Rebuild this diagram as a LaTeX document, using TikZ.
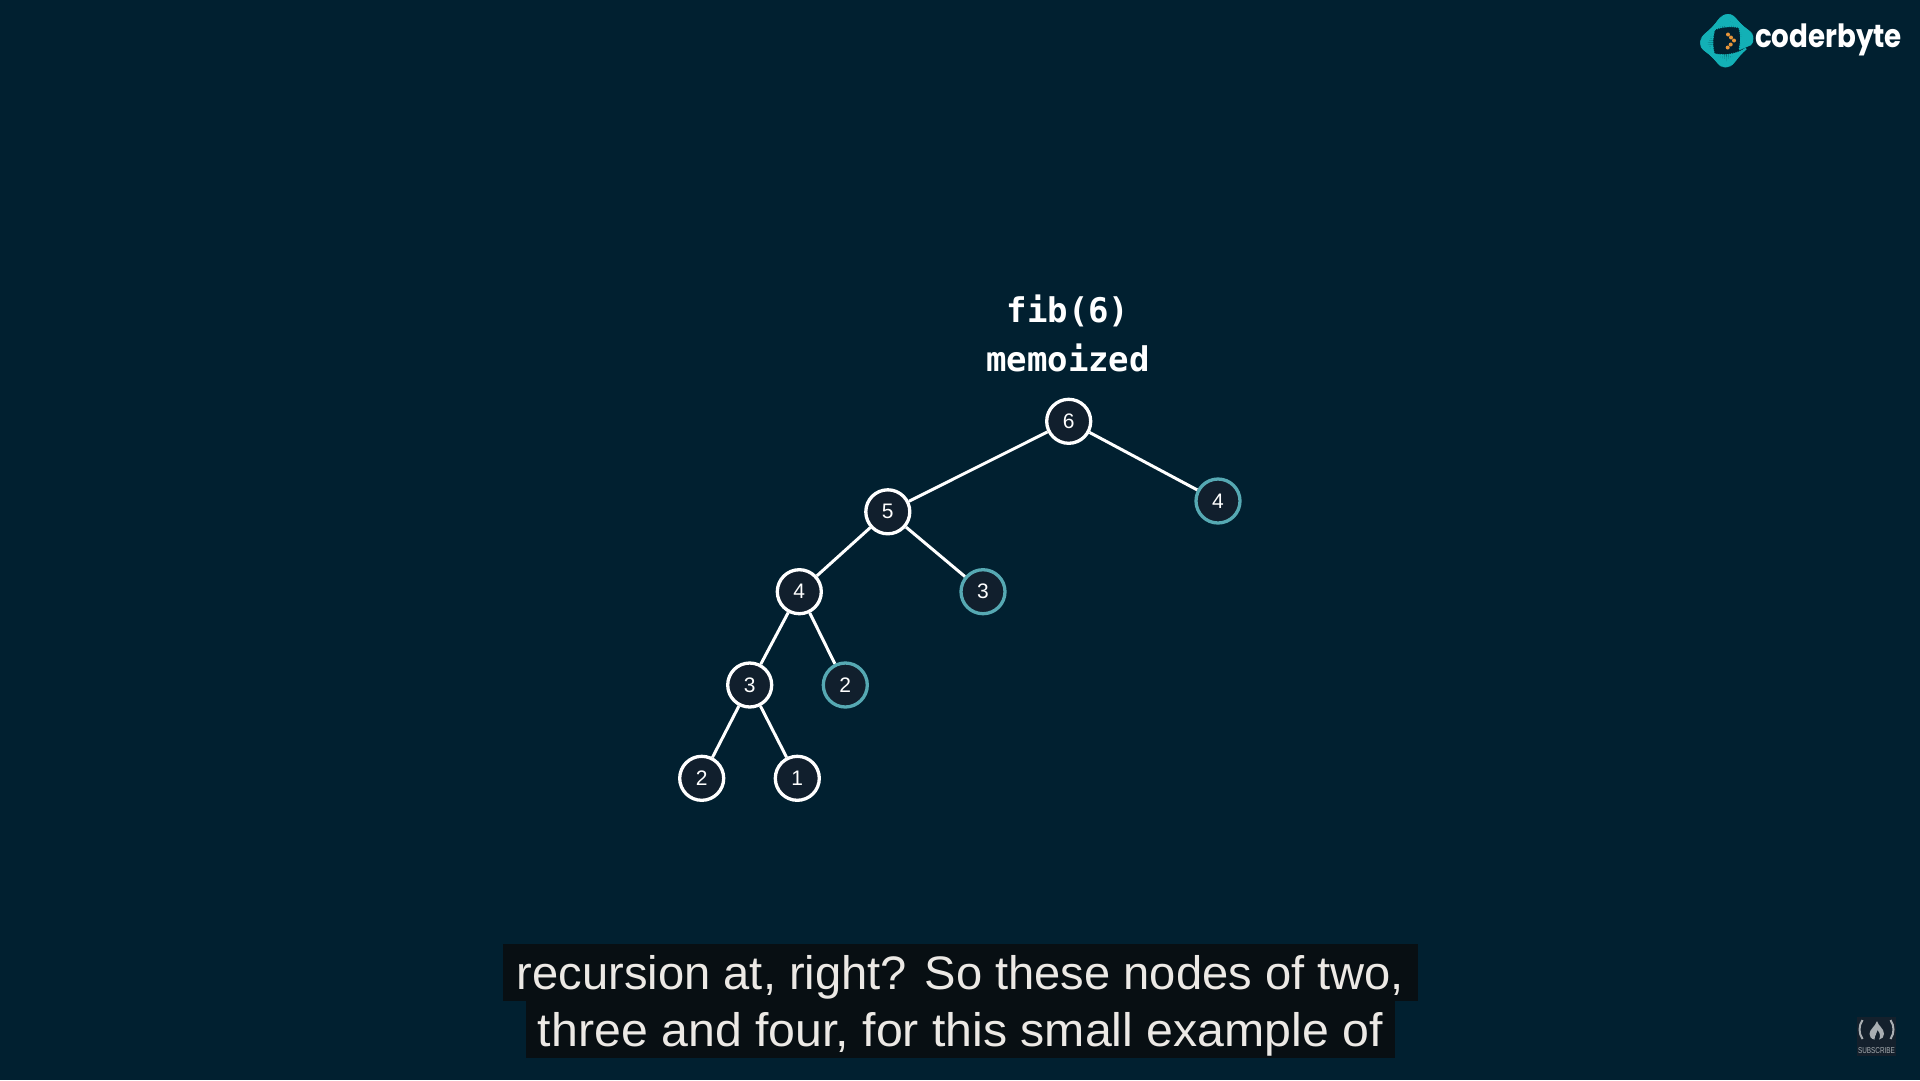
\documentclass[tikz,border=0pt]{standalone}
\usepackage{fontspec}
\setmainfont{Liberation Sans}
\newfontfamily\titlefont{DejaVu Sans Mono}
\newfontfamily\logofont{Poppins}
\definecolor{bgc}{HTML}{012030}
\definecolor{nodefill}{HTML}{111F2D}
\definecolor{tealc}{HTML}{56A9B3}
\definecolor{capbox}{HTML}{080F13}
\definecolor{capink}{HTML}{ECE9E5}
\definecolor{ringc}{HTML}{13B0B6}
\definecolor{dotc}{HTML}{E8963A}
\definecolor{subbox}{HTML}{14202C}
\definecolor{subink}{HTML}{A9AEB2}
\tikzset{
  treenode/.style={circle,draw=white,fill=nodefill,line width=3.3pt,minimum size=44pt,inner sep=0pt,text=white,font=\fontsize{21}{21}\selectfont},
  seen/.style={treenode,draw=tealc},
  edge/.style={draw=white,line width=3pt},
  titletext/.style={anchor=base,text=white,font=\titlefont\bfseries\fontsize{34}{34}\selectfont,inner sep=0pt},
  captext/.style={anchor=base,text=capink,font=\fontsize{47}{47}\selectfont,inner sep=0pt},
}
\begin{document}
\begin{tikzpicture}[x=1pt,y=-1pt]
\useasboundingbox (0,0) rectangle (1920,1080);
\fill[bgc] (0,0) rectangle (1920,1080);
% title
\node[titletext] (t1) at (1068,322) {fib(6)};
\node[titletext] (t2) at (1068,371) {memoized};
% tree
\node[treenode] (n6) at (1068.7,421.3) {6};
\node[treenode] (n5) at (887.8,511.8) {5};
\node[seen] (s4) at (1218,501) {4};
\node[treenode] (n4) at (799.3,591.7) {4};
\node[seen] (s3) at (983,591.7) {3};
\node[treenode] (n3) at (749.7,685) {3};
\node[seen] (s2) at (845.3,685) {2};
\node[treenode] (n2) at (701.7,778.3) {2};
\node[treenode] (n1) at (797.3,778.3) {1};
\draw[edge] (n6) -- (n5);
\draw[edge] (n6) -- (s4);
\draw[edge] (n5) -- (n4);
\draw[edge] (n5) -- (s3);
\draw[edge] (n4) -- (n3);
\draw[edge] (n4) -- (s2);
\draw[edge] (n3) -- (n2);
\draw[edge] (n3) -- (n1);
% caption
\fill[capbox] (503,944) rectangle (1418,1001);
\fill[capbox] (526,1001) rectangle (1395,1058);
\node[captext] (c1) at (960.5,989) {\resizebox{887pt}{\height}{recursion at, right? So these nodes of two,}};
\node[captext] (c2) at (960.5,1046) {\resizebox{845pt}{\height}{three and four, for this small example of}};
% coderbyte logo
\foreach \a in {45,40,...,-20}{
  \pgfmathsetmacro{\mixv}{min(100,max(0,(60-\a)*100/45))}
  \draw[line width=13pt,color=ringc!\mixv!bgc] ({1726.7+20*cos(\a)},{40.7-20*sin(\a)}) arc[start angle=-\a,end angle=-\a+6,radius=20pt,x radius=20pt];
}
\foreach \a in {-15,-10,...,320}{
  \pgfmathsetmacro{\mixv}{\a<45?100:100}
  \draw[line width=13pt,color=ringc] ({1726.7+20*cos(\a)},{40.7-20*sin(\a)}) arc[start angle=-\a,delta angle=6,radius=20pt];
}
\foreach \px/\py in {1728/34.5,1731/37.5,1734/40.5,1730.7/44.5,1727.7/47.5}{
  \fill[dotc] (\px,\py) circle[radius=2pt];
}
\node[anchor=base,inner sep=0pt,text=white,font=\logofont\bfseries\fontsize{32}{32}\selectfont] (logo) at (1828.5,47.3) {\resizebox{147pt}{\height}{coderbyte}};
% subscribe mark
\fill[subbox] (1857.3,1016.7) rectangle (1895.7,1056);
\draw[subink,line width=2pt] (1862.5,1020) .. controls (1858.5,1026) and (1858.5,1033) .. (1862.5,1039);
\draw[subink,line width=2pt] (1890.5,1020) .. controls (1894.5,1026) and (1894.5,1033) .. (1890.5,1039);
\fill[subink,even odd rule] (1877,1021) .. controls (1878,1026) and (1884,1028) .. (1884,1034) .. controls (1884,1037) and (1882,1039) .. (1879,1039.5) .. controls (1881,1036) and (1880,1033) .. (1877.5,1030) .. controls (1877,1034) and (1874.5,1035) .. (1874.5,1039.5) .. controls (1871,1039) and (1869.5,1036.5) .. (1869.5,1034) .. controls (1869.5,1029) and (1875,1027) .. (1877,1021) -- cycle;
\node[anchor=base,inner sep=0pt,text=subink,font=\fontsize{8.5}{8.5}\selectfont] (sub) at (1876.5,1053) {\resizebox{37pt}{\height}{SUBSCRIBE}};
\end{tikzpicture}
\end{document}
